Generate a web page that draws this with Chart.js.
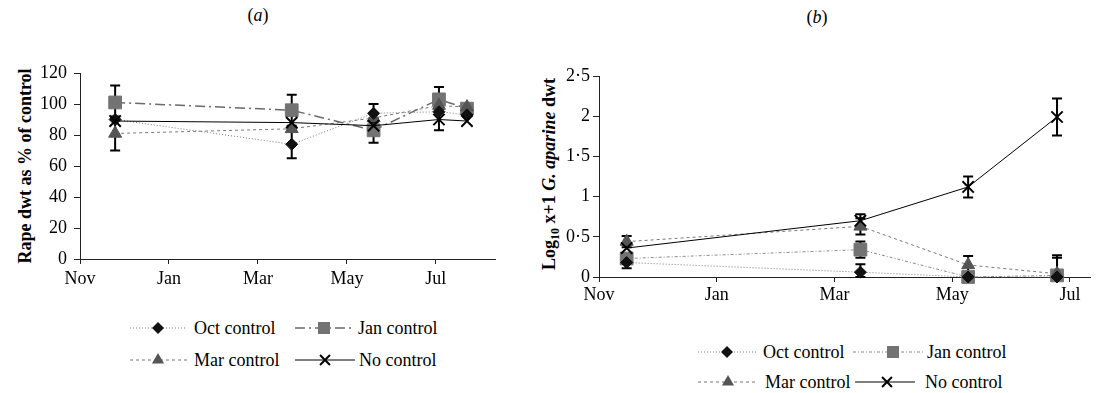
<!DOCTYPE html>
<html>
<head>
<meta charset="utf-8">
<script src="https://cdn.jsdelivr.net/npm/chart.js@4/dist/chart.umd.min.js"></script>
<style>
  body { margin: 0; background: #fff; font-family: "Liberation Serif", "Times New Roman", serif; }
  #page { position: relative; width: 1100px; height: 393px; overflow: hidden; }
  #page canvas.chart { position: absolute; top: 0; }
  .panel { position: absolute; font-size: 18px; transform: translate(-50%, -50%); }
  .ytitle { position: absolute; font-size: 18px; font-weight: bold; white-space: nowrap;
            transform: translate(-50%, -50%) rotate(-90deg); }
  .ytitle sub { font-size: 12px; }
  .leg { position: absolute; font-size: 18px; white-space: nowrap; transform: translateY(-50%); }
  .legmark { position: absolute; }
</style>
</head>
<body>
<div id="page">
  <div class="panel" style="left:258px; top:15px;">(<i>a</i>)</div>
  <div class="panel" style="left:817px; top:17px;">(<i>b</i>)</div>
  <div class="ytitle" style="left:25px; top:166px;">Rape dwt as % of control</div>
  <div class="ytitle" style="left:551px; top:174px;">Log<sub>10</sub> x+1 <i>G. aparine</i> dwt</div>
  <canvas id="chartA" class="chart" width="520" height="300" style="left:0; width:520px; height:300px;"></canvas>
  <canvas id="chartB" class="chart" width="580" height="320" style="left:520px; width:580px; height:320px;"></canvas>
</div>

<script>
// x axis in months after 1 Nov
const monthPos    = [0, 2, 4, 6, 8];
const monthLabels = ['Nov', 'Jan', 'Mar', 'May', 'Jul'];

// (a) rape dwt as % of control
const aDates   = [0.79, 4.76, 6.6, 8.07, 8.7];
const aOct     = [90, 74, 94, 95, 93];
const aJan     = [101, 96, 83, 103, 97];
const aMar     = [81, 84, 91, 99, 98];
const aNone    = [89, 88, 86, 90, 89];
const aOctErr  = [null, 9, 6, null, null];
const aJanErr  = [11, 10, 8, 8, null];
const aMarErr  = [11, null, null, null, null];
const aNoneErr = [null, null, null, 7, null];

// (b) log10 x+1 G. aparine dwt
const bDates   = [0.47, 4.44, 6.27, 7.78];
const bOct     = [0.18, 0.06, 0.0, 0.0];
const bJan     = [0.23, 0.34, 0.0, 0.02];
const bMar     = [0.44, 0.63, 0.15, 0.04];
const bNone    = [0.36, 0.70, 1.12, 1.99];
const bOctErr  = [0.07, 0.1, null, null];
const bJanErr  = [null, 0.1, null, 0.25];
const bMarErr  = [0.07, 0.1, 0.11, 0.2];
const bNoneErr = [null, 0.08, 0.13, 0.23];

const FONT = { family: '"Liberation Serif", "Times New Roman", serif', size: 18 };

const styles = {
  oct:  { label: 'Oct control', pointStyle: 'rectRot', pointRadius: 6, color: '#111',
          borderColor: '#777', borderWidth: 1, borderDash: [1, 2] },
  janA: { label: 'Jan control', pointStyle: 'rect', pointRadius: 9, color: '#737373',
          borderColor: '#6a6a6a', borderWidth: 1.5, borderDash: [10, 4, 2, 4] },
  janB: { label: 'Jan control', pointStyle: 'rect', pointRadius: 9, color: '#737373',
          borderColor: '#8a8a8a', borderWidth: 1, borderDash: [3, 2, 1, 2] },
  mar:  { label: 'Mar control', pointStyle: 'triangle', pointRadius: 7.5, color: '#555',
          borderColor: '#777', borderWidth: 1, borderDash: [3, 3] },
  none: { label: 'No control', pointStyle: 'crossRot', pointRadius: 8, color: '#000',
          borderColor: '#000', borderWidth: 1, borderDash: [], pointBorderWidth: 2 }
};

function series(xs, ys, errs, st, order) {
  return {
    label: st.label,
    data: xs.map((x, i) => ({ x, y: ys[i] })),
    errors: errs,
    order,
    clip: false,
    pointStyle: st.pointStyle,
    pointRadius: st.pointRadius,
    pointHoverRadius: st.pointRadius,
    pointBackgroundColor: st.color,
    pointBorderColor: st.color,
    pointBorderWidth: st.pointBorderWidth || 1,
    borderColor: st.borderColor,
    borderWidth: st.borderWidth,
    borderDash: st.borderDash,
    tension: 0,
    fill: false
  };
}

// error bars, drawn under the markers
const errorBars = {
  id: 'errorBars',
  beforeDatasetsDraw(chart) {
    const { ctx, scales: { x, y } } = chart;
    ctx.save();
    ctx.strokeStyle = '#000';
    ctx.lineWidth = 2;
    chart.data.datasets.forEach(ds => {
      if (!ds.errors) return;
      ds.data.forEach((p, i) => {
        const e = ds.errors[i];
        if (e == null) return;
        const px = x.getPixelForValue(p.x);
        const top = y.getPixelForValue(p.y + e);
        const bot = y.getPixelForValue(Math.max(p.y - e, y.min));
        ctx.beginPath();
        ctx.moveTo(px, top); ctx.lineTo(px, bot);
        ctx.moveTo(px - 5, top); ctx.lineTo(px + 5, top);
        ctx.moveTo(px - 5, bot); ctx.lineTo(px + 5, bot);
        ctx.stroke();
      });
    });
    ctx.restore();
  }
};

function makeOptions(cfg) {
  return {
    responsive: false,
    animation: false,
    layout: { padding: { top: cfg.top, right: cfg.right, left: 0, bottom: 0 } },
    plugins: { legend: { display: false }, tooltip: { enabled: false } },
    scales: {
      x: {
        type: 'linear', min: 0, max: cfg.xMax,
        afterBuildTicks: s => { s.ticks = monthPos.map(v => ({ value: v })); },
        afterFit: s => { s.height = cfg.xHeight; },
        grid: { drawOnChartArea: false, tickLength: 5, color: '#222' },
        border: { color: '#222', width: 1 },
        ticks: { autoSkip: false, maxRotation: 0, padding: cfg.xPad, color: '#000', font: FONT,
                 callback: v => monthLabels[monthPos.indexOf(v)] }
      },
      y: {
        min: 0, max: cfg.yMax,
        afterFit: s => { s.width = cfg.yWidth; },
        grid: { drawOnChartArea: false, tickLength: 6, color: '#222' },
        border: { color: '#222', width: 1 },
        ticks: { stepSize: cfg.yStep, padding: cfg.yPad, color: '#000', font: FONT,
                 callback: v => String(v).replace('.', '·') }
      }
    }
  };
}

new Chart(document.getElementById('chartA'), {
  type: 'line',
  data: {
    datasets: [
      series(aDates, aOct,  aOctErr,  styles.oct,  2),
      series(aDates, aJan,  aJanErr,  styles.janA, 4),
      series(aDates, aMar,  aMarErr,  styles.mar,  3),
      series(aDates, aNone, aNoneErr, styles.none, 1)
    ]
  },
  options: makeOptions({ top: 73, right: 25, xMax: 9.33, xHeight: 41, xPad: 4,
                         yMax: 120, yStep: 20, yWidth: 80, yPad: 7 }),
  plugins: [errorBars]
});

new Chart(document.getElementById('chartB'), {
  type: 'line',
  data: {
    datasets: [
      series(bDates, bOct,  bOctErr,  styles.oct,  2),
      series(bDates, bJan,  bJanErr,  styles.janB, 4),
      series(bDates, bMar,  bMarErr,  styles.mar,  3),
      series(bDates, bNone, bNoneErr, styles.none, 1)
    ]
  },
  options: makeOptions({ top: 76, right: 5, xMax: 8.34, xHeight: 43, xPad: 2,
                         yMax: 2.5, yStep: 0.5, yWidth: 79, yPad: 3 }),
  plugins: [errorBars]
});

// legends: sample line with marker, then the label
function drawMarker(ctx, st, cx, cy, r) {
  ctx.fillStyle = st.color;
  ctx.strokeStyle = st.color;
  ctx.beginPath();
  if (st.pointStyle === 'rectRot') {
    ctx.moveTo(cx, cy - r); ctx.lineTo(cx + r, cy); ctx.lineTo(cx, cy + r); ctx.lineTo(cx - r, cy);
    ctx.closePath(); ctx.fill();
  } else if (st.pointStyle === 'rect') {
    const h = r * Math.SQRT1_2;
    ctx.rect(cx - h, cy - h, 2 * h, 2 * h); ctx.fill();
  } else if (st.pointStyle === 'triangle') {
    ctx.moveTo(cx, cy - r); ctx.lineTo(cx + r * 0.866, cy + r / 2); ctx.lineTo(cx - r * 0.866, cy + r / 2);
    ctx.closePath(); ctx.fill();
  } else {
    const d = r * Math.SQRT1_2;
    ctx.lineWidth = 2;
    ctx.moveTo(cx - d, cy - d); ctx.lineTo(cx + d, cy + d);
    ctx.moveTo(cx + d, cy - d); ctx.lineTo(cx - d, cy + d);
    ctx.stroke();
  }
}

const legendItems = [
  { st: styles.oct,  r: 6,   x0: 130, x1: 187, mx: 158, y: 328, tx: 194 },
  { st: styles.janA, r: 8.5, x0: 295, x1: 355, mx: 324, y: 328, tx: 358 },
  { st: styles.mar,  r: 7,   x0: 130, x1: 190, mx: 158, y: 360, tx: 194 },
  { st: styles.none, r: 7,   x0: 295, x1: 355, mx: 325, y: 360, tx: 359 },
  { st: styles.oct,  r: 6,   x0: 698, x1: 758, mx: 727, y: 352, tx: 763 },
  { st: styles.janB, r: 8.5, x0: 853, x1: 925, mx: 893, y: 352, tx: 927 },
  { st: styles.mar,  r: 7,   x0: 698, x1: 758, mx: 728, y: 382, tx: 765 },
  { st: styles.none, r: 7,   x0: 855, x1: 915, mx: 887, y: 382, tx: 925 }
];

const page = document.getElementById('page');
legendItems.forEach(it => {
  const c = document.createElement('canvas');
  const w = it.x1 - it.x0, h = 20;
  c.width = w; c.height = h;
  c.className = 'legmark';
  c.style.left = it.x0 + 'px';
  c.style.top = (it.y - h / 2) + 'px';
  page.appendChild(c);
  const ctx = c.getContext('2d');
  ctx.strokeStyle = it.st.borderColor;
  ctx.lineWidth = it.st.borderWidth;
  ctx.setLineDash(it.st.borderDash);
  ctx.beginPath();
  ctx.moveTo(0, h / 2); ctx.lineTo(w, h / 2);
  ctx.stroke();
  ctx.setLineDash([]);
  drawMarker(ctx, it.st, it.mx - it.x0, h / 2, it.r);

  const t = document.createElement('div');
  t.className = 'leg';
  t.style.left = it.tx + 'px';
  t.style.top = it.y + 'px';
  t.textContent = it.st.label;
  page.appendChild(t);
});
</script>
</body>
</html>
